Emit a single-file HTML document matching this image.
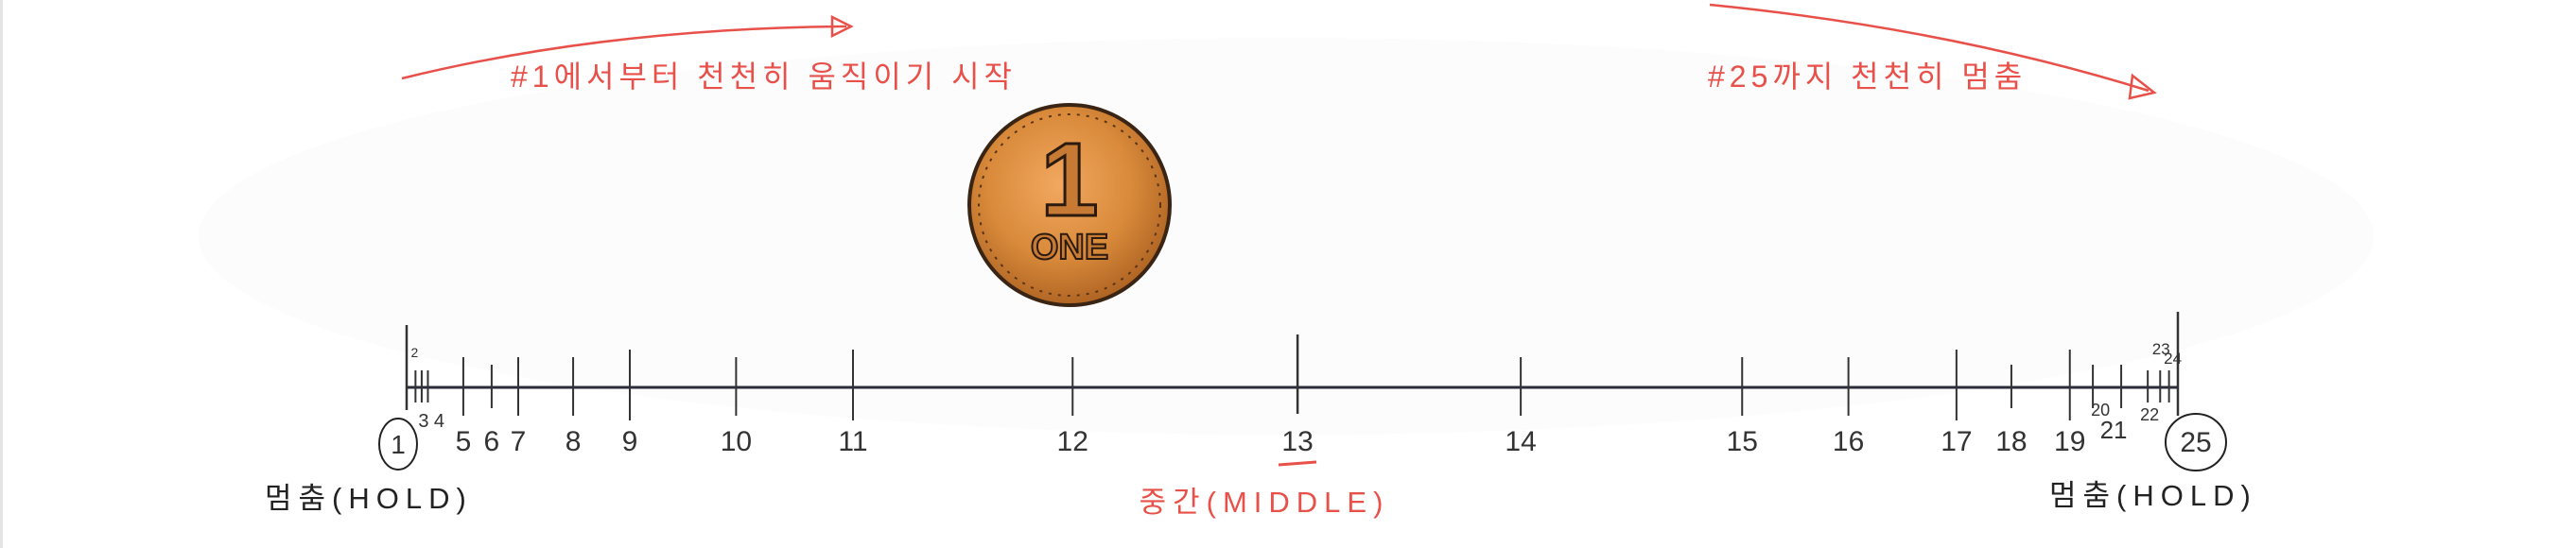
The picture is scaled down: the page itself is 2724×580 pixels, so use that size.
<!DOCTYPE html>
<html><head><meta charset="utf-8">
<style>
html,body{margin:0;padding:0;background:#fff;}
svg{display:block;}
text{font-family:"Liberation Sans","Noto Sans CJK KR",sans-serif;}
</style></head>
<body>
<svg id="chart" width="2724" height="580" viewBox="0 0 2724 580" xmlns="http://www.w3.org/2000/svg">
  <defs>
    <radialGradient id="coinGrad" cx="45%" cy="40%" r="60%">
      <stop offset="0%" stop-color="#f2a860"/>
      <stop offset="60%" stop-color="#d98a3a"/>
      <stop offset="100%" stop-color="#b06524"/>
    </radialGradient>
  </defs>
  <rect x="0" y="0" width="2724" height="580" fill="#ffffff"/>
  <ellipse cx="1360" cy="250" rx="1150" ry="210" fill="#fcfcfc"/>
  <rect x="0" y="0" width="3" height="580" fill="#e4e4e4"/>

  <!-- top annotations -->
  <path d="M425 83 Q640 30 895 28" fill="none" stroke="#e8504a" stroke-width="2.5"/>
  <path d="M880 18 L900 28 L880 38 Z" fill="none" stroke="#e8504a" stroke-width="2.5"/>
  <text x="540" y="92" font-size="32" letter-spacing="5" fill="#e8504a">#1에서부터 천천히 움직이기 시작</text>

  <path d="M1808 5 Q2060 30 2272 96" fill="none" stroke="#e8504a" stroke-width="2.5"/>
  <path d="M2255 80 L2278 98 L2252 104 Z" fill="none" stroke="#e8504a" stroke-width="2.5"/>
  <text x="1806" y="92" font-size="32" letter-spacing="5" fill="#e8504a">#25까지 천천히 멈춤</text>

  <!-- coin -->
  <g>
    <circle cx="1131" cy="217" r="106" fill="url(#coinGrad)" stroke="#3a2414" stroke-width="4"/>
    <circle cx="1131" cy="217" r="96" fill="none" stroke="#5a3418" stroke-width="2" stroke-dasharray="3 7"/>
    <text x="1131" y="228" font-size="110" font-weight="bold" text-anchor="middle" fill="#c77a34" stroke="#2b1a0e" stroke-width="3">1</text>
    <text x="1131" y="274" font-size="38" font-weight="bold" text-anchor="middle" fill="#c77a34" stroke="#2b1a0e" stroke-width="2">ONE</text>
  </g>

  <g id="axis"></g>
  <g id="ticks"></g>
  <g id="labels"></g>

  <ellipse cx="421" cy="470" rx="20" ry="27" fill="none" stroke="#222" stroke-width="2"/>
  <ellipse cx="2322" cy="468" rx="32" ry="30" fill="none" stroke="#222" stroke-width="2"/>
  <line x1="1352" y1="492" x2="1392" y2="489" stroke="#e8504a" stroke-width="3"/>

  <text x="280" y="538" font-size="31" fill="#222" letter-spacing="7">멈춤(HOLD)</text>
  <text x="2167" y="535" font-size="31" fill="#222" letter-spacing="7">멈춤(HOLD)</text>
  <text x="1337" y="542" font-size="31" fill="#e8504a" letter-spacing="7" text-anchor="middle">중간(MIDDLE)</text>
</svg>
<script>
const stops = [1,2,3,4,5,6,7,8,9,10,11,12,13,14,15,16,17,18,19,20,21,22,23,24,25];
const timePct = [0,0.5,0.85,1.2,3.2,4.8,6.3,9.4,12.6,18.6,25.2,37.6,50.3,62.9,75.4,81.4,87.5,90.6,93.9,95.2,96.8,98.3,99.0,99.5,100];
const tickLabels = ['1','2','3','4','5','6','7','8','9','10','11','12','13','14','15','16','17','18','19','20','21','22','23','24','25'];

const X0 = 430, X1 = 2303, LY = 410;
function xScale(t){ return X0 + t*(X1-X0)/100; }
const NS = 'http://www.w3.org/2000/svg';
const axisG = document.getElementById('axis');
const ticksG = document.getElementById('ticks');
const labelsG = document.getElementById('labels');

const axisLine = document.createElementNS(NS,'line');
axisLine.setAttribute('x1', xScale(timePct[0]));
axisLine.setAttribute('x2', xScale(timePct[timePct.length-1]));
axisLine.setAttribute('y1', LY); axisLine.setAttribute('y2', LY);
axisLine.setAttribute('stroke', '#2b2b3a'); axisLine.setAttribute('stroke-width', '3');


axisG.appendChild(axisLine);

function tickExtent(n){
  if(n===1) return [344,434];
  if(n===25) return [330,440];
  if(n===13) return [354,438];
  if([9,11,17,19].includes(n)) return [370,445];
  if([2,3,4,22,23,24].includes(n)) return [392,426];
  if([6,18,20,21].includes(n)) return [386,432];
  return [378,440];
}
function labelPos(n, x){
  if(n===2) return [x-1, 378, 14];
  if(n===3) return [x+2, 452, 20];
  if(n===4) return [x+12, 452, 20];
  if(n===20) return [x+8, 440, 18];
  if(n===22) return [x+2, 445, 18];
  if(n===23) return [x+1, 375, 17];
  if(n===24) return [x+4, 385, 17];
  if(n===21) return [x-8, 464, 26];
  if(n===1) return [x-9, 480, 28];
  if(n===25) return [x+19, 478, 30];
  return [x, 477, 30];
}
for(let i=0;i<stops.length;i++){
  const n = stops[i];
  const x = xScale(timePct[i]);
  const [y1,y2] = tickExtent(n);
  const t = document.createElementNS(NS,'line');
  t.setAttribute('x1', x); t.setAttribute('x2', x);
  t.setAttribute('y1', y1); t.setAttribute('y2', y2);
  t.setAttribute('stroke', '#333'); t.setAttribute('stroke-width', (n===1||n===25||n===13)?'2.5':'2');
  
  
  ticksG.appendChild(t);

  const [lx, ly, fs] = labelPos(n, x);
  const lb = document.createElementNS(NS,'text');
  lb.setAttribute('x', lx); lb.setAttribute('y', ly);
  lb.setAttribute('font-size', fs);
  lb.setAttribute('text-anchor', 'middle');
  lb.setAttribute('fill', '#333');
  lb.textContent = tickLabels[i];
  
  
  labelsG.appendChild(lb);
}
</script>
</body></html>
